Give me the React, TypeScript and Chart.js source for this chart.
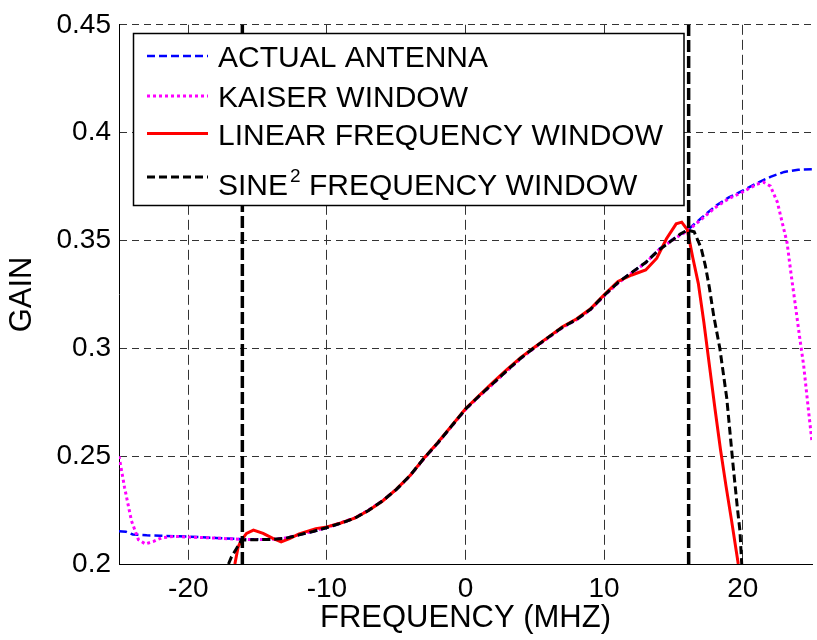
import React, { useEffect, useRef } from "react";
import { Chart, registerables } from "chart.js";

Chart.register(...registerables);

const FONT = '"Liberation Sans", Arial, Helvetica, sans-serif';

// ---- tick labels ----
const X_TICKS = [-20, -10, 0, 10, 20];
const Y_TICKS = [0.2, 0.25, 0.3, 0.35, 0.4, 0.45];

// ---- legend labels ----
const LABELS = [
  "ACTUAL ANTENNA",
  "KAISER WINDOW",
  "LINEAR FREQUENCY WINDOW",
  "SINE\u00B2 FREQUENCY WINDOW",
];

// ---- ACTUAL ANTENNA ----
const actualX = [-25, -24.5, -24, -23, -22, -20, -18, -16, -14, -13, -12, -11, -10, -9, -8, -7, -6, -5, -4, -3, -2, -1, 0, 1, 2, 3, 4, 5, 6, 7, 8, 9, 10, 11, 12, 13, 14, 15, 16, 17, 18, 19, 20, 21, 22, 23, 24, 25];
const actualY = [0.2152, 0.215, 0.2137, 0.2133, 0.2131, 0.2127, 0.2121, 0.2115, 0.2114, 0.2119, 0.2135, 0.215, 0.2168, 0.2188, 0.2212, 0.2248, 0.2292, 0.2345, 0.241, 0.249, 0.2562, 0.264, 0.2718, 0.278, 0.2838, 0.2898, 0.2955, 0.3005, 0.3052, 0.3098, 0.3132, 0.318, 0.3245, 0.3305, 0.3352, 0.3398, 0.3462, 0.3508, 0.3548, 0.3603, 0.3658, 0.37, 0.3731, 0.3765, 0.3795, 0.3818, 0.3828, 0.383];

// ---- KAISER WINDOW ----
const kaiserX = [-25, -24.6, -24.1, -23.6, -23.1, -22.5, -21.9, -21, -20, -18, -16, -14, -13, -12, -11, -10, -9, -8, -7, -6, -5, -4, -3, -2, -1, 0, 1, 2, 3, 4, 5, 6, 7, 8, 9, 10, 11, 12, 13, 14, 15, 16, 17, 18, 19, 20, 21, 21.5, 22, 22.5, 22.9, 23.2, 23.5, 23.8, 24.1, 24.4, 24.7, 25];
const kaiserY = [0.25, 0.2355, 0.22, 0.2113, 0.2093, 0.2105, 0.2122, 0.2128, 0.2125, 0.212, 0.2114, 0.2114, 0.212, 0.2136, 0.2152, 0.217, 0.2191, 0.2214, 0.225, 0.2293, 0.2345, 0.2409, 0.2488, 0.256, 0.2638, 0.2716, 0.2778, 0.2836, 0.2896, 0.2953, 0.3003, 0.305, 0.3096, 0.3132, 0.3178, 0.3243, 0.3302, 0.335, 0.3396, 0.346, 0.3505, 0.3544, 0.3597, 0.3652, 0.3694, 0.3725, 0.376, 0.377, 0.3752, 0.3678, 0.357, 0.349, 0.334, 0.32, 0.3055, 0.292, 0.274, 0.2565];

// ---- LINEAR FREQUENCY WINDOW ----
const linearX = [-16.64, -16.4, -16.16, -15.8, -15.3, -14.6, -13.9, -13.3, -12.7, -12, -10.8, -10, -9, -8, -7, -6, -5, -4, -3, -2, -1, 0, 1, 2, 3, 4, 5, 6, 7, 8, 9, 10, 11, 12, 13, 13.8, 14.5, 15.2, 15.6, 16.0, 16.4, 16.8, 17.2, 17.6, 18.0, 18.4, 18.8, 19.2, 19.68];
const linearY = [0.2, 0.208, 0.2111, 0.2142, 0.2157, 0.2142, 0.2119, 0.2103, 0.2118, 0.214, 0.2164, 0.2172, 0.219, 0.2213, 0.2248, 0.2291, 0.2346, 0.241, 0.249, 0.2563, 0.2641, 0.272, 0.2782, 0.2843, 0.2902, 0.2958, 0.3006, 0.3053, 0.31, 0.3136, 0.3182, 0.3248, 0.331, 0.334, 0.3363, 0.3418, 0.3508, 0.3577, 0.3585, 0.355, 0.342, 0.33, 0.312, 0.292, 0.272, 0.253, 0.236, 0.22, 0.2];

// ---- SINE^2 FREQUENCY WINDOW ----
const sineX = [-17.1, -16.88, -16.52, -16.16, -15, -14, -13, -12, -11, -10, -9, -8, -7, -6, -5, -4, -3, -2, -1, 0, 1, 2, 3, 4, 5, 6, 7, 8, 9, 10, 11, 12, 13, 14, 15, 15.5, 16.0, 16.5, 17.0, 17.3, 17.6, 17.9, 18.35, 18.85, 19.3, 19.6, 19.8, 19.93];
const sineY = [0.2, 0.2034, 0.2072, 0.2111, 0.2113, 0.2114, 0.2119, 0.2135, 0.2151, 0.2169, 0.2189, 0.2212, 0.2248, 0.2292, 0.2345, 0.241, 0.249, 0.2561, 0.264, 0.2718, 0.278, 0.2838, 0.2898, 0.2955, 0.3005, 0.3052, 0.3098, 0.3133, 0.318, 0.3245, 0.3305, 0.3352, 0.3398, 0.3458, 0.3505, 0.353, 0.3548, 0.354, 0.3465, 0.3385, 0.328, 0.3154, 0.3, 0.2769, 0.2462, 0.227, 0.2154, 0.2];

// ---- vertical band-edge markers ----
const markerLeftX = [-16.1, -16.1];
const markerRightX = [16.1, 16.1];
const markerY = [0.2, 0.45];

const pts = (xs: number[], ys: number[]) => xs.map((x, i) => ({ x, y: ys[i] }));

const legendPlugin = {
  id: "insideLegend",
  afterDatasetsDraw(chart: any) {
    const ctx = chart.ctx;
    const boxL = 133.5, boxT = 33.5, boxR = 684, boxB = 205.5;
    ctx.save();
    ctx.fillStyle = "#ffffff";
    ctx.fillRect(boxL, boxT, boxR - boxL, boxB - boxT);
    ctx.strokeStyle = "#000000";
    ctx.lineWidth = 1.5;
    ctx.setLineDash([]);
    ctx.strokeRect(boxL, boxT, boxR - boxL, boxB - boxT);

    const sampleY = [56, 96, 133.5, 177];
    const textY = [56, 96, 134, 184];
    const size = 30;
    for (let i = 0; i < 4; i++) {
      const ds = chart.data.datasets[i];
      ctx.save();
      ctx.beginPath();
      ctx.strokeStyle = ds.borderColor;
      ctx.lineWidth = ds.borderWidth;
      ctx.setLineDash(ds.borderDash || []);
      ctx.lineCap = "butt";
      ctx.moveTo(147, sampleY[i]);
      ctx.lineTo(208, sampleY[i]);
      ctx.stroke();
      ctx.restore();

      ctx.fillStyle = "#000000";
      ctx.textAlign = "left";
      ctx.textBaseline = "alphabetic";
      const base = textY[i] + 0.358 * size;
      const label: string = ds.label;
      const parts = label.split("\u00B2");
      ctx.font = `${size}px ${FONT}`;
      let x = 218;
      ctx.fillText(parts[0], x, base);
      x += ctx.measureText(parts[0]).width;
      if (parts.length > 1) {
        ctx.font = `19px ${FONT}`;
        x += 2;
        ctx.fillText("2", x, base - 13);
        x += ctx.measureText("2").width;
        ctx.font = `${size}px ${FONT}`;
        ctx.fillText(parts[1], x, base);
      }
    }
    ctx.restore();
  },
};

export default function App() {
  const ref = useRef<HTMLCanvasElement | null>(null);

  useEffect(() => {
    document.body.style.margin = "0";
    if (!ref.current) return;
    const chart = new Chart(ref.current, {
      type: "line",
      data: {
        datasets: [
          {
            label: LABELS[0],
            data: pts(actualX, actualY),
            borderColor: "#0000ff",
            borderWidth: 2.5,
            borderDash: [8, 4],
            order: 4,
          },
          {
            label: LABELS[1],
            data: pts(kaiserX, kaiserY),
            borderColor: "#ff00ff",
            borderWidth: 3,
            borderDash: [3, 3],
            order: 3,
          },
          {
            label: LABELS[2],
            data: pts(linearX, linearY),
            borderColor: "#ff0000",
            borderWidth: 3,
            borderDash: [],
            order: 2,
          },
          {
            label: LABELS[3],
            data: pts(sineX, sineY),
            borderColor: "#000000",
            borderWidth: 3,
            borderDash: [8, 4],
            order: 1,
          },
          {
            label: "",
            data: pts(markerLeftX, markerY),
            borderColor: "#000000",
            borderWidth: 3.5,
            borderDash: [12, 4],
            order: 0,
          },
          {
            label: "",
            data: pts(markerRightX, markerY),
            borderColor: "#000000",
            borderWidth: 3.5,
            borderDash: [12, 4],
            order: 0,
          },
        ] as any,
      },
      options: {
        responsive: false,
        animation: false,
        devicePixelRatio: 1,
        parsing: false as any,
        elements: {
          point: { radius: 0, hoverRadius: 0 },
          line: { tension: 0, fill: false, borderCapStyle: "butt" },
        },
        layout: { padding: { top: 21, right: 5, left: 0, bottom: 0 } },
        plugins: {
          legend: { display: false },
          tooltip: { enabled: false },
        },
        scales: {
          x: {
            type: "linear",
            min: -25,
            max: 25,
            afterBuildTicks: (s: any) => {
              s.ticks = X_TICKS.map((v) => ({ value: v }));
            },
            afterFit: (s: any) => {
              s.height = 76;
            },
            ticks: {
              font: { family: FONT, size: 28 },
              color: "#000",
              padding: 8,
              maxRotation: 0,
              autoSkip: false,
              callback: (v: any) => String(v),
            },
            grid: { color: "#333", lineWidth: 1, drawTicks: false },
            border: { display: true, color: "#000", width: 1, dash: [10, 5] },
            title: {
              display: true,
              text: "FREQUENCY (MHZ)",
              color: "#000",
              font: { family: FONT, size: 31 },
              padding: { top: 0, bottom: 3 },
            },
          },
          y: {
            type: "linear",
            min: 0.2,
            max: 0.45,
            afterBuildTicks: (s: any) => {
              s.ticks = Y_TICKS.map((v) => ({ value: v }));
            },
            afterFit: (s: any) => {
              s.width = 119;
            },
            ticks: {
              font: { family: FONT, size: 28 },
              color: "#000",
              padding: 8,
              callback: (v: any) => Number(v).toFixed(2).replace(/0$/, ""),
            },
            grid: { color: "#333", lineWidth: 1, drawTicks: false },
            border: { display: true, color: "#000", width: 1, dash: [7, 5] },
            title: {
              display: true,
              text: "GAIN",
              color: "#000",
              font: { family: FONT, size: 31 },
              padding: { top: 4, bottom: 0 },
            },
          },
        },
      } as any,
      plugins: [legendPlugin],
    });
    return () => chart.destroy();
  }, []);

  return (
    <div style={{ width: 817, height: 640 }}>
      <canvas ref={ref} width={817} height={640} style={{ display: "block" }} />
    </div>
  );
}
